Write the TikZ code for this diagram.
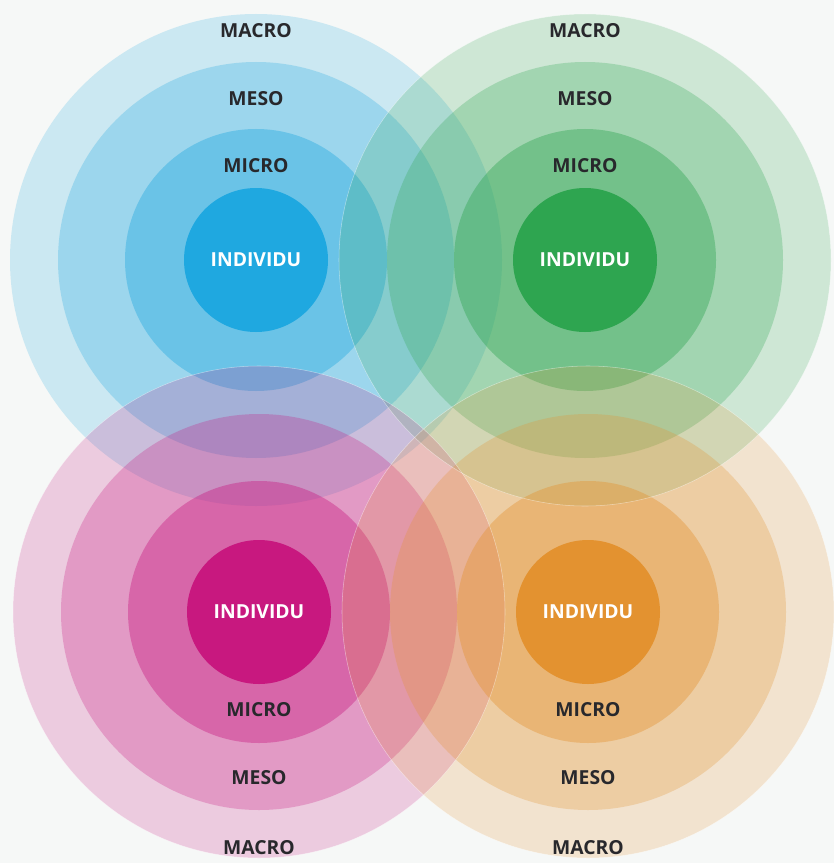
\documentclass[tikz,border=0pt]{standalone}
\usepackage{fontspec}
\setmainfont{Open Sans}
\definecolor{blueset}{RGB}{31,168,224}
\definecolor{greenset}{RGB}{46,165,80}
\definecolor{pinkset}{RGB}{200,24,127}
\definecolor{orangeset}{RGB}{227,146,48}
\definecolor{labeldark}{RGB}{40,40,44}
\definecolor{backtint}{RGB}{246,248,247}

\tikzset{every picture/.style={line width=0.75pt},
  macroring/.style={draw=none, fill opacity=0.2},
  mesoring/.style={draw=none, fill opacity=0.27},
  microring/.style={draw=none, fill opacity=0.4},
  core/.style={draw=none},
  rim/.style={draw=white, draw opacity=0.45, line width=0.4pt},
  lvl/.style={font=\bfseries\fontsize{14.5}{16}\selectfont, text=labeldark},
  lvlcore/.style={lvl, text=white}}

\begin{document}
\begin{tikzpicture}[x=0.75pt,y=0.75pt,yscale=-1,xscale=1]
	%set diagram to the size of the picture
	\fill [backtint] (0,0) rectangle (834,863);
	\useasboundingbox (0,0) rectangle (834,863);

	%Shape: Circles blue set
	\fill [blueset, macroring] (256,260) circle [radius=246];
	\fill [blueset, mesoring] (256,260) circle [radius=198];
	\fill [blueset, microring] (256,260) circle [radius=131];
	\fill [blueset, core] (256,260) circle [radius=72];
	%Shape: Circles green set
	\fill [greenset, macroring] (585,260) circle [radius=246];
	\fill [greenset, mesoring] (585,260) circle [radius=198];
	\fill [greenset, microring] (585,260) circle [radius=131];
	\fill [greenset, core] (585,260) circle [radius=72];
	%Shape: Circles pink set
	\fill [pinkset, macroring] (259,612) circle [radius=246];
	\fill [pinkset, mesoring] (259,612) circle [radius=198];
	\fill [pinkset, microring] (259,612) circle [radius=131];
	\fill [pinkset, core] (259,612) circle [radius=72];
	%Shape: Circles orange set
	\fill [orangeset, macroring] (588,612) circle [radius=246];
	\fill [orangeset, mesoring] (588,612) circle [radius=198];
	\fill [orangeset, microring] (588,612) circle [radius=131];
	\fill [orangeset, core] (588,612) circle [radius=72];
	%thin light rims
	\draw [rim] (585,260) circle [radius=246];
	\draw [rim] (259,612) circle [radius=246];
	\draw [rim] (588,612) circle [radius=246];

	% Text Node
	\node [lvl] (blueMacro) at (256,31) {MACRO};
	\node [lvl] (blueMeso) at (256,99) {MESO};
	\node [lvl] (blueMicro) at (256,166) {MICRO};
	\node [lvlcore] (blueInd) at (256,260) {INDIVIDU};
	% Text Node
	\node [lvl] (greenMacro) at (585,31) {MACRO};
	\node [lvl] (greenMeso) at (585,99) {MESO};
	\node [lvl] (greenMicro) at (585,166) {MICRO};
	\node [lvlcore] (greenInd) at (585,260) {INDIVIDU};
	% Text Node
	\node [lvlcore] (pinkInd) at (259,612) {INDIVIDU};
	\node [lvl] (pinkMicro) at (259,710) {MICRO};
	\node [lvl] (pinkMeso) at (259,778) {MESO};
	\node [lvl] (pinkMacro) at (259,848) {MACRO};
	% Text Node
	\node [lvlcore] (orangeInd) at (588,612) {INDIVIDU};
	\node [lvl] (orangeMicro) at (588,710) {MICRO};
	\node [lvl] (orangeMeso) at (588,778) {MESO};
	\node [lvl] (orangeMacro) at (588,848) {MACRO};

\end{tikzpicture}
\end{document}
